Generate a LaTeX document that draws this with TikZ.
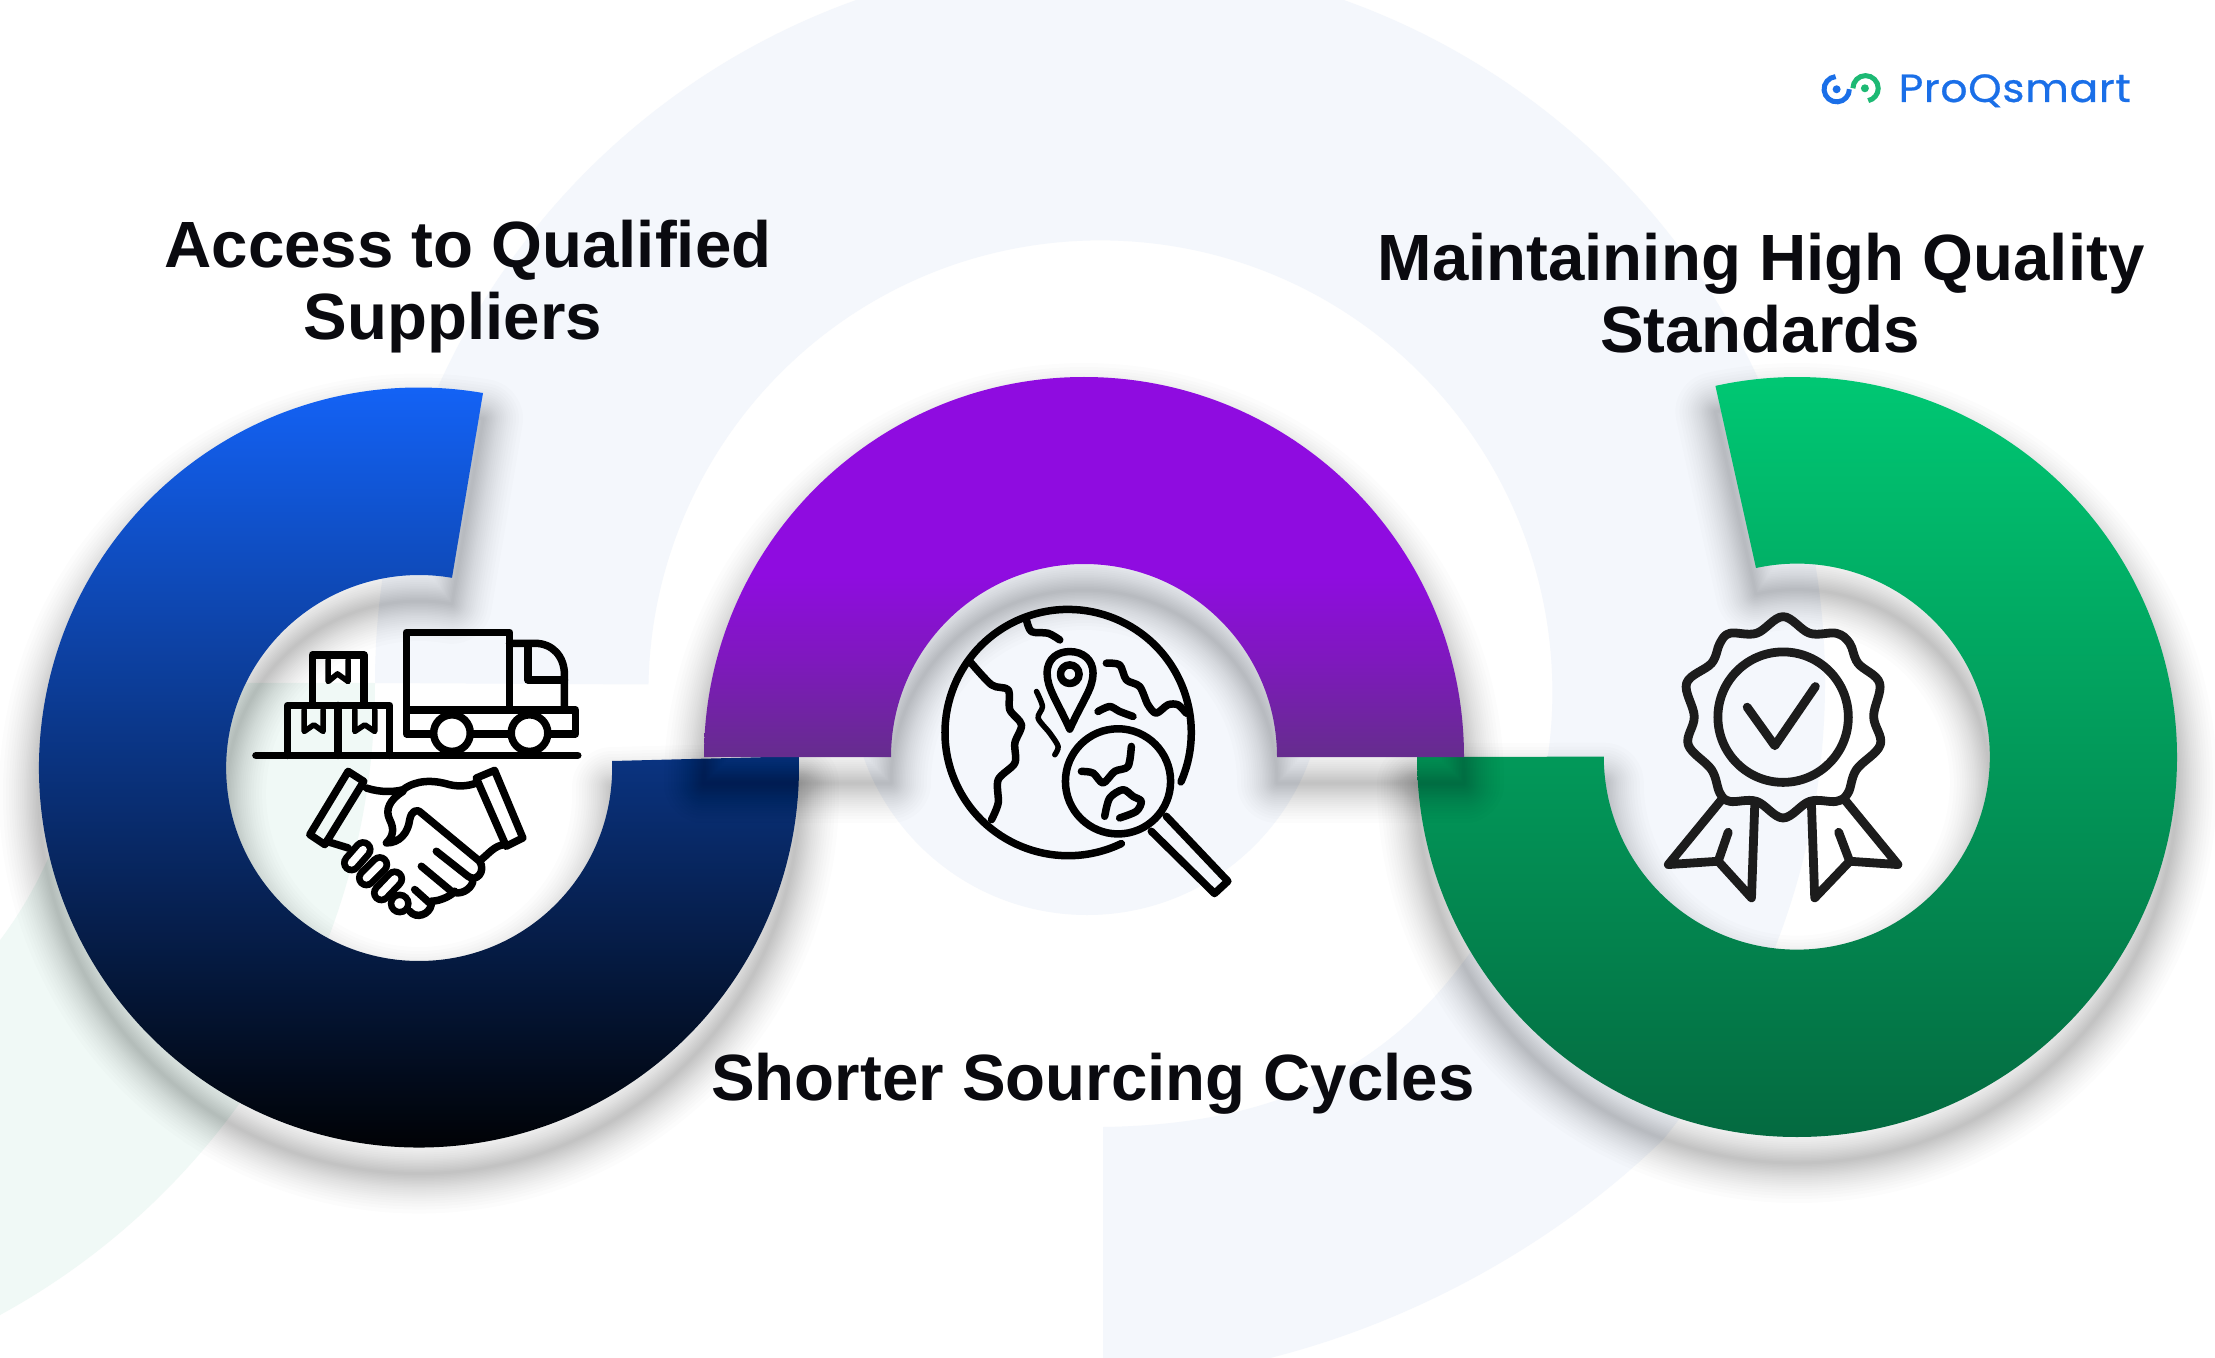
\documentclass[tikz,border=0pt]{standalone}
\usepackage{fontspec}
\setmainfont{Liberation Sans}
\newfontfamily\logofont[FakeStretch=1.08,FakeBold=.6,LetterSpace=1.5]{Poppins}
\definecolor{paleblue}{HTML}{F4F7FC}
\definecolor{palegreen}{HTML}{F0F9F6}
\definecolor{logoblue}{HTML}{1A6FE8}
\definecolor{logogreen}{HTML}{1DB974}
\definecolor{inkblack}{HTML}{0A0A0F}
\definecolor{rosetteink}{HTML}{1C1C1C}
\definecolor{ringblue}{HTML}{1466FF}
\definecolor{ringnavy}{HTML}{0B3078}
\definecolor{ringgreen}{HTML}{00C974}
\definecolor{ringpine}{HTML}{046A40}
\definecolor{ringviolet}{HTML}{8F0CE0}
\definecolor{ringviomid}{HTML}{7F18BE}
\definecolor{ringplum}{HTML}{652D8D}
\pgfdeclareverticalshading{violetfade}{100bp}{color(0bp)=(ringplum); color(25bp)=(ringplum); color(38bp)=(ringviomid); color(49bp)=(ringviolet); color(100bp)=(ringviolet)}
\tikzset{
	headline/.style={font=\bfseries\fontsize{18.6}{22}\selectfont,text=inkblack,anchor=base,inner sep=0pt},
	iconline/.style={line width=.075cm,line join=round,line cap=round},
	thinline/.style={line width=.055cm,line join=round,line cap=round},
	rosetteline/.style={line width=.088cm,draw=rosetteink,line join=round,line cap=round},
	iconscope/.style={x=.00333cm,y=-.00333cm}
}
% pieces of the three rings, in pixels of the picture
\newcommand\blueshape{(483,393) arc[start angle=-80.3,end angle=-361.7,radius=380] -- (612,761) arc[start angle=-362.08,end angle=-80.2,radius=193] -- cycle}
\newcommand\purpleshape{(704,757) arc[start angle=-180,end angle=0,radius=380] -- (1277,757) arc[start angle=0,end angle=-180,radius=193] -- cycle}
\newcommand\greenshape{(1417,757) arc[start angle=-180,end angle=-462.4,radius=380] -- (1756,568) arc[start angle=-462.2,end angle=-180,radius=193] -- cycle}
\newcommand\softshadow[1]{\begin{scope}[yshift=-.26cm]
	\foreach \w in {3,6,9,12,15,18,21,24,27,30,34,38,42,46,50,55,60,66,72,80} {\draw[black,opacity=.011,line join=round,line width=\w*.01cm] #1;}
\end{scope}}
\begin{document}
\begin{tikzpicture}[x=.01cm,y=-.01cm]
	\useasboundingbox (0,0) rectangle (2215,1358);
	\clip (0,0) rectangle (2215,1358);
	\fill[white] (0,0) rectangle (2215,1358);
	% pale marks behind everything
	\fill[palegreen] (375,683) arc[start angle=0,end angle=75,radius=720] -- (-233,1098) arc[start angle=75,end angle=0,radius=430] -- cycle;
	\fill[paleblue] (375,683) arc[start angle=-180,end angle=39,radius=725] .. controls (1560,1240) and (1420,1320) .. (1270,1358) -- (1103,1358) -- (1103,1127) .. controls (1240,1125) and (1340,1090) .. (1420,1012) arc[start angle=45,end angle=-179,radius=452] -- cycle;
	\fill[paleblue] (1087,678) circle[radius=237];
	% rings
	\softshadow{\blueshape}
	\shade[top color=ringblue,middle color=ringnavy,bottom color=black] \blueshape;
	\softshadow{\greenshape}
	\shade[top color=ringgreen,bottom color=ringpine] \greenshape;
	\softshadow{\purpleshape}
	\shade[shading=violetfade] \purpleshape;
	% truck, boxes and handshake
	\begin{scope}[shift={(220,600)},iconscope]
		\draw[iconline] (108,467) -- (1075,467);
		\draw[iconline] (278,310) -- (278,165) -- (433,165) -- (433,310);
		\draw[iconline] (203,467) -- (203,317) -- (510,317) -- (510,467) (355,317) -- (355,467);
		\draw[thinline] (325,180) -- (325,245) -- (353,222) -- (385,245) -- (385,180);
		\draw[thinline] (253,330) -- (253,395) -- (282,375) -- (310,395) -- (310,330);
		\draw[thinline] (405,330) -- (405,395) -- (435,375) -- (465,395) -- (465,330);
		\draw[iconline] (560,330) -- (560,97) -- (870,97) -- (870,330);
		\draw[iconline] (870,130) -- (945,130) .. controls (1000,130) and (1035,170) .. (1035,225) -- (1035,330);
		\draw[iconline] (925,135) -- (925,240) -- (1035,240);
		\draw[iconline] (640,402) -- (560,402) -- (560,330) -- (1068,330) -- (1068,402) -- (985,402);
		\draw[iconline] (760,402) -- (875,402);
		\draw[iconline,fill=white] (697,400) circle[radius=55];
		\draw[iconline,fill=white] (930,400) circle[radius=55];
		\draw[iconline] (385,515) -- (432,545) -- (315,735) -- (270,705) -- cycle;
		\draw[iconline] (770,535) -- (825,512) -- (910,715) -- (860,740) -- cycle;
		\draw[iconline] (440,565) .. controls (480,578) and (520,578) .. (550,570) .. controls (590,540) and (640,540) .. (690,555) .. controls (720,562) and (750,558) .. (770,550);
		\draw[iconline] (550,575) .. controls (510,600) and (495,630) .. (510,660) .. controls (525,690) and (520,710) .. (500,730) .. controls (540,730) and (565,700) .. (570,660) .. controls (575,635) and (590,625) .. (605,640) -- (780,785) .. controls (800,815) and (770,850) .. (745,830) -- (650,755);
		\draw[iconline] (605,800) -- (695,875) .. controls (720,890) and (755,870) .. (760,845);
		\draw[iconline] (585,870) -- (635,915) .. controls (630,945) and (590,960) .. (570,935);
		\draw[iconline] (635,905) .. controls (665,905) and (700,885) .. (705,875);
		\draw[iconline] (855,735) .. controls (825,738) and (810,760) .. (785,780);
		\draw[iconline] (320,725) -- (385,745);
		\foreach \xa/\ya/\xb/\yb in {395/790/430/750,440/835/480/795,485/880/525/838} {
			\draw[line width=.21cm,line cap=round] (\xa,\ya) -- (\xb,\yb);
			\draw[white,line width=.075cm,line cap=round] (\xa,\ya) -- (\xb,\yb);
		}
		\draw[line width=.065cm,fill=white] (540,912) circle[radius=26];
	\end{scope}
	% globe with pin and lens
	\begin{scope}[shift={(920,590)},iconscope]
		\draw[iconline] (605,762) arc[start angle=64.4,end angle=383.6,radius=370];
		\draw[iconline] plot[smooth] coordinates {(150,215) (215,285) (265,300) (270,360) (305,405) (285,460) (285,520) (235,570) (235,640) (215,690)};
		\draw[iconline] plot[smooth] coordinates {(320,90) (335,125) (385,130) (420,150)};
		\draw[iconline,fill=paleblue] (450,418) .. controls (410,330) and (382,295) .. (382,250) .. controls (382,205) and (415,185) .. (450,185) .. controls (490,185) and (520,210) .. (520,250) .. controls (520,295) and (490,330) .. (450,418) -- cycle;
		\draw[iconline] (450,253) circle[radius=28];
		\draw[thinline] plot[smooth] coordinates {(350,305) (368,350) (355,385) (390,430) (415,470) (405,495)};
		\draw[iconline] plot[smooth] coordinates {(560,220) (600,225) (620,270) (660,290) (685,345) (710,370) (745,345) (775,345) (800,370)};
		\draw[iconline] plot[smooth] coordinates {(535,365) (570,350) (600,365) (640,380)};
		\draw[iconline,fill=paleblue] (595,575) circle[radius=158];
		\draw[iconline] plot[smooth] coordinates {(485,545) (520,550) (550,580) (585,545) (625,530) (635,470)};
		\draw[iconline] plot[smooth] coordinates {(555,680) (570,625) (610,600) (640,620) (665,635) (650,665) (600,685)};
		\draw[iconline,fill=paleblue] (740,680) -- (925,875) -- (885,912) -- (695,725);
	\end{scope}
	% rosette with check mark
	\begin{scope}[shift={(1640,600)},iconscope]
		\draw[rosetteline] plot[smooth cycle,tension=.6] coordinates {(430,50) (510,100) (590,100) (630,130) (655,190) (720,250) (702,350) (722,435) (650,510) (625,580) (590,605) (510,605) (430,655) (350,605) (270,605) (240,580) (215,510) (145,435) (163,350) (140,250) (215,190) (240,130) (270,100) (350,100)};
		\draw[rosetteline] (430,352) circle[radius=196];
		\draw[rosetteline] (322,322) -- (405,438) -- (527,260);
		\foreach \xa/\xb/\xc/\xd/\xe/\xf in {245/85/235/335/345/265,615/775/630/525/515/597} {
			\draw[rosetteline] (\xa,600) -- (\xb,795) -- (\xc,785) -- (\xd,895) -- (\xe,610);
			\draw[rosetteline] (\xf,698) -- (\xc,785);
		}
	\end{scope}
	% logo
	\begin{scope}[shift={(1800,50)},iconscope]
		\draw[logoblue,line width=.05cm] (107,80) arc[start angle=-95,end angle=-360,radius=38];
		\fill[logoblue] (110,118) circle[radius=12];
		\draw[logogreen,line width=.05cm] (159,115) arc[start angle=-180,end angle=78,radius=38];
		\fill[logogreen] (195,115) circle[radius=12];
	\end{scope}
	\node[anchor=base west,inner sep=0pt,text=logoblue,font=\logofont\fontsize{11.2}{13}\selectfont] (logoname) at (1898,102) {ProQsmart};
	% headings
	\node[headline] (accesstitle) at (468,268) {Access to Qualified};
	\node[headline] (supplierstitle) at (453,340) {Suppliers};
	\node[headline] (qualitytitle) at (1761,281) {Maintaining High Quality};
	\node[headline] (standardstitle) at (1760,353) {Standards};
	\node[headline] (cyclestitle) at (1093,1100) {Shorter Sourcing Cycles};
\end{tikzpicture}
\end{document}
